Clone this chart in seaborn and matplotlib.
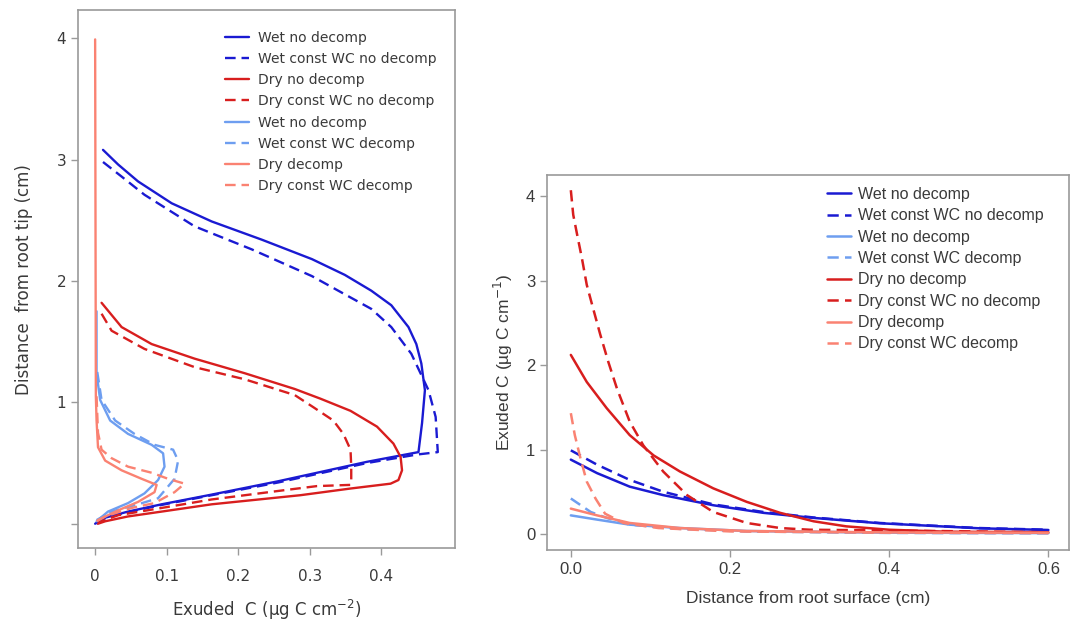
import matplotlib
matplotlib.use("Agg")
import matplotlib.pyplot as plt
import seaborn as sns

sns.set_theme(style="white")

# ---------------- colours ----------------
DARK_BLUE = "#1a1ad2"
RED = "#d81e1e"
LIGHT_BLUE = "#6e9ef0"
SALMON = "#fa8272"
DASH = (0, (4.5, 2.5))

# ---------------- panel A: exudate profile along the root ----------------
# x = exuded C (ug C cm-2), y = distance from root tip (cm)
wet_nd_x = [0.011, 0.032, 0.060, 0.107, 0.163, 0.233, 0.303, 0.349, 0.386, 0.414, 0.438,
            0.449, 0.456, 0.461, 0.457, 0.452, 0.380, 0.256, 0.163, 0.093, 0.046, 0.014, 0.000]
wet_nd_y = [3.08, 2.96, 2.82, 2.64, 2.49, 2.34, 2.18, 2.05, 1.92, 1.80, 1.62,
            1.48, 1.32, 1.10, 0.83, 0.59, 0.51, 0.35, 0.24, 0.16, 0.10, 0.05, 0.00]

wet_cwc_nd_x = [0.011, 0.037, 0.069, 0.139, 0.219, 0.303, 0.349, 0.386, 0.414, 0.442, 0.466,
                0.476, 0.479, 0.450, 0.380, 0.256, 0.163, 0.093, 0.046, 0.014, 0.002]
wet_cwc_nd_y = [2.98, 2.86, 2.71, 2.45, 2.26, 2.04, 1.89, 1.77, 1.62, 1.40, 1.10,
                0.88, 0.59, 0.57, 0.50, 0.34, 0.235, 0.155, 0.095, 0.045, 0.00]

dry_nd_x = [0.009, 0.037, 0.079, 0.139, 0.209, 0.279, 0.315, 0.357, 0.394, 0.417, 0.427,
            0.429, 0.424, 0.413, 0.357, 0.287, 0.163, 0.093, 0.046, 0.014, 0.004]
dry_nd_y = [1.82, 1.62, 1.48, 1.36, 1.24, 1.11, 1.03, 0.93, 0.80, 0.66, 0.55,
            0.44, 0.36, 0.33, 0.29, 0.235, 0.16, 0.10, 0.06, 0.02, 0.00]

dry_cwc_nd_x = [0.009, 0.023, 0.069, 0.139, 0.209, 0.279, 0.305, 0.333, 0.347, 0.357, 0.358,
                0.358, 0.357, 0.310, 0.256, 0.163, 0.093, 0.032, 0.004]
dry_cwc_nd_y = [1.73, 1.59, 1.44, 1.29, 1.19, 1.06, 0.96, 0.85, 0.74, 0.61, 0.47,
                0.36, 0.32, 0.31, 0.27, 0.20, 0.13, 0.07, 0.01]

wet_d_x = [0.002, 0.002, 0.007, 0.021, 0.046, 0.079, 0.095, 0.097, 0.088, 0.069, 0.046,
           0.018, 0.002]
wet_d_y = [1.75, 1.24, 1.02, 0.85, 0.74, 0.65, 0.58, 0.47, 0.36, 0.25, 0.17,
           0.10, 0.02]

wet_cwc_d_x = [0.003, 0.009, 0.028, 0.055, 0.083, 0.109, 0.116, 0.111, 0.088, 0.060,
               0.023, 0.002]
wet_cwc_d_y = [1.25, 1.02, 0.85, 0.74, 0.65, 0.61, 0.52, 0.37, 0.21, 0.16,
               0.10, 0.03]

dry_d_x = [0.000, 0.001, 0.002, 0.004, 0.014, 0.037, 0.065, 0.086, 0.083, 0.060, 0.032, 0.004]
dry_d_y = [3.99, 1.05, 0.85, 0.63, 0.52, 0.44, 0.37, 0.32, 0.26, 0.18, 0.11, 0.03]

dry_cwc_d_x = [0.002, 0.004, 0.009, 0.023, 0.046, 0.079, 0.102, 0.125, 0.111, 0.083,
               0.051, 0.014, 0.002]
dry_cwc_d_y = [1.05, 0.75, 0.61, 0.54, 0.47, 0.42, 0.37, 0.33, 0.26, 0.17,
               0.13, 0.06, 0.02]

labels_a = ["Wet no decomp", "Wet const WC no decomp", "Dry no decomp",
            "Dry const WC no decomp", "Wet no decomp", "Wet const WC decomp",
            "Dry decomp", "Dry const WC decomp"]
xticks_a = [0, 0.1, 0.2, 0.3, 0.4]
xticklabels_a = ["0", "0.1", "0.2", "0.3", "0.4"]
yticks_a = [0, 1, 2, 3, 4]
yticklabels_a = ["", "1", "2", "3", "4"]

# ---------------- panel B: radial exudate profile ----------------
# x = distance from root surface (cm), y = exuded C (ug C cm-1)
b_wet_nd_x = [0.000, 0.033, 0.074, 0.116, 0.179, 0.242, 0.305, 0.388, 0.513, 0.600]
b_wet_nd_y = [0.88, 0.72, 0.56, 0.46, 0.34, 0.25, 0.19, 0.127, 0.067, 0.047]

b_wet_cwc_nd_x = [0.000, 0.033, 0.074, 0.116, 0.179, 0.242, 0.305, 0.388, 0.513, 0.600]
b_wet_cwc_nd_y = [0.99, 0.82, 0.64, 0.50, 0.35, 0.26, 0.195, 0.13, 0.07, 0.05]

b_wet_d_x = [0.000, 0.033, 0.074, 0.137, 0.221, 0.400, 0.600]
b_wet_d_y = [0.22, 0.17, 0.11, 0.07, 0.035, 0.015, 0.01]

b_wet_cwc_d_x = [0.000, 0.025, 0.045, 0.074, 0.137, 0.221, 0.400, 0.600]
b_wet_cwc_d_y = [0.42, 0.26, 0.19, 0.11, 0.06, 0.03, 0.012, 0.008]

b_dry_nd_x = [0.000, 0.020, 0.045, 0.074, 0.104, 0.137, 0.179, 0.221, 0.263, 0.305, 0.346,
              0.400, 0.470, 0.600]
b_dry_nd_y = [2.12, 1.80, 1.49, 1.17, 0.93, 0.74, 0.54, 0.38, 0.25, 0.15, 0.09,
              0.05, 0.027, 0.02]

b_dry_cwc_nd_x = [0.000, 0.003, 0.008, 0.014, 0.020, 0.028, 0.037, 0.047, 0.058, 0.074, 0.091,
                  0.116, 0.146, 0.179, 0.221, 0.263, 0.300, 0.410, 0.600]
b_dry_cwc_nd_y = [4.07, 3.78, 3.54, 3.26, 2.95, 2.67, 2.36, 2.04, 1.72, 1.33, 1.05,
                  0.74, 0.46, 0.26, 0.13, 0.07, 0.05, 0.04, 0.02]

b_dry_d_x = [0.000, 0.033, 0.074, 0.137, 0.221, 0.400, 0.600]
b_dry_d_y = [0.30, 0.22, 0.13, 0.07, 0.035, 0.018, 0.015]

b_dry_cwc_d_x = [0.000, 0.005, 0.012, 0.020, 0.031, 0.043, 0.066, 0.110, 0.200, 0.400, 0.600]
b_dry_cwc_d_y = [1.43, 1.17, 0.90, 0.62, 0.42, 0.24, 0.13, 0.07, 0.03, 0.015, 0.01]

labels_b = ["Wet no decomp", "Wet const WC no decomp", "Wet no decomp",
            "Wet const WC decomp", "Dry no decomp", "Dry const WC no decomp",
            "Dry decomp", "Dry const WC decomp"]
xticks_b = [0.0, 0.2, 0.4, 0.6]
xticklabels_b = ["0.0", "0.2", "0.4", "0.6"]
yticks_b = [0, 1, 2, 3, 4]
yticklabels_b = ["0", "1", "2", "3", "4"]

# ---------------- figure ----------------
fig = plt.figure(figsize=(10.71, 6.26), dpi=100)
ax_a = fig.add_axes([0.0728, 0.1246, 0.352, 0.859])
ax_b = fig.add_axes([0.5107, 0.1214, 0.4875, 0.599])

series_a = [
    (wet_nd_x, wet_nd_y, DARK_BLUE, "-"),
    (wet_cwc_nd_x, wet_cwc_nd_y, DARK_BLUE, DASH),
    (dry_nd_x, dry_nd_y, RED, "-"),
    (dry_cwc_nd_x, dry_cwc_nd_y, RED, DASH),
    (wet_d_x, wet_d_y, LIGHT_BLUE, "-"),
    (wet_cwc_d_x, wet_cwc_d_y, LIGHT_BLUE, DASH),
    (dry_d_x, dry_d_y, SALMON, "-"),
    (dry_cwc_d_x, dry_cwc_d_y, SALMON, DASH),
]
for (xs, ys, col, ls), lab in zip(series_a, labels_a):
    sns.lineplot(x=xs, y=ys, ax=ax_a, color=col, linestyle=ls, lw=1.7,
                 sort=False, estimator=None, label=lab)

series_b = [
    (b_wet_nd_x, b_wet_nd_y, DARK_BLUE, "-"),
    (b_wet_cwc_nd_x, b_wet_cwc_nd_y, DARK_BLUE, DASH),
    (b_wet_d_x, b_wet_d_y, LIGHT_BLUE, "-"),
    (b_wet_cwc_d_x, b_wet_cwc_d_y, LIGHT_BLUE, DASH),
    (b_dry_nd_x, b_dry_nd_y, RED, "-"),
    (b_dry_cwc_nd_x, b_dry_cwc_nd_y, RED, DASH),
    (b_dry_d_x, b_dry_d_y, SALMON, "-"),
    (b_dry_cwc_d_x, b_dry_cwc_d_y, SALMON, DASH),
]
for (xs, ys, col, ls), lab in zip(series_b, labels_b):
    sns.lineplot(x=xs, y=ys, ax=ax_b, color=col, linestyle=ls, lw=1.8,
                 sort=False, estimator=None, label=lab)

TXT = "#3a3a3a"
FRAME = "#9a9a9a"


def style_axes(ax, family, tick_fs, xpad):
    for sp in ax.spines.values():
        sp.set_visible(True)
        sp.set_color(FRAME)
        sp.set_linewidth(1.2)
    ax.tick_params(axis="both", which="both", direction="out", length=5, width=1,
                   color=FRAME, labelcolor=TXT, labelsize=tick_fs, bottom=True, left=True)
    ax.tick_params(axis="x", pad=xpad)
    for lbl in ax.get_xticklabels() + ax.get_yticklabels():
        lbl.set_family(family)
    ax.grid(False)


# panel A axes
ax_a.set_xlim(-0.024, 0.503)
ax_a.set_ylim(-0.2, 4.23)
ax_a.set_xticks(xticks_a)
ax_a.set_xticklabels(xticklabels_a)
ax_a.set_yticks(yticks_a)
ax_a.set_yticklabels(yticklabels_a)
style_axes(ax_a, "DejaVu Sans", 11, 10)
ax_a.set_xlabel("Exuded  C (µg C cm$^{-2}$)", fontsize=12, color=TXT,
                family="DejaVu Sans", labelpad=10)
ax_a.set_ylabel("Distance  from root tip (cm)", fontsize=12, color=TXT,
                family="DejaVu Sans", labelpad=17)
leg_a = ax_a.legend(loc="upper left", bbox_to_anchor=(0.372, 0.975), frameon=False,
                    borderpad=0, handlelength=1.7, handletextpad=0.7,
                    labelspacing=0.52, prop={"family": "DejaVu Sans", "size": 10})
for t in leg_a.get_texts():
    t.set_color(TXT)

# panel B axes
ax_b.set_xlim(-0.030, 0.626)
ax_b.set_ylim(-0.19, 4.25)
ax_b.set_xticks(xticks_b)
ax_b.set_xticklabels(xticklabels_b)
ax_b.set_yticks(yticks_b)
ax_b.set_yticklabels(yticklabels_b)
style_axes(ax_b, "Liberation Sans", 12, 3.5)
ax_b.set_xlabel("Distance from root surface (cm)", fontsize=12.5, color=TXT,
                family="Liberation Sans", labelpad=10.5)
ax_b.set_ylabel("Exuded C (µg C cm$^{-1}$)", fontsize=12.5, color=TXT,
                family="Liberation Sans", labelpad=8)
leg_b = ax_b.legend(loc="upper left", bbox_to_anchor=(0.5205, 0.99), frameon=False,
                    borderpad=0, handlelength=1.5, handletextpad=0.45,
                    labelspacing=0.40, prop={"family": "Liberation Sans", "size": 11.5})
for t in leg_b.get_texts():
    t.set_color(TXT)

fig.savefig("out.png", dpi=100)
